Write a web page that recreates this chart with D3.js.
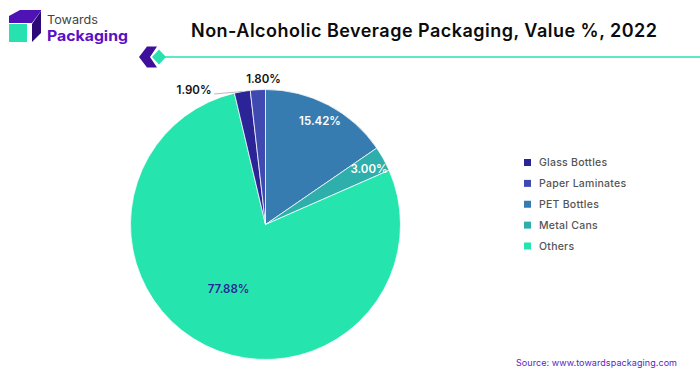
<!DOCTYPE html>
<html><head><meta charset="utf-8">
<script src="https://cdn.jsdelivr.net/npm/d3@7/dist/d3.min.js"></script>
<style>html,body{margin:0;padding:0;background:#fff}svg{display:block}text{font-family:Inter,sans-serif}</style>
</head><body><svg id="c" width="700" height="375"></svg>
<script>
const titleText = "Non-Alcoholic Beverage Packaging, Value %, 2022";
const sourceText = "Source: www.towardspackaging.com";
const legendOrder = ["Glass Bottles","Paper Laminates","PET Bottles","Metal Cans","Others"];
const legendColors = ["#2a2497","#4049b0","#377cb0","#2eafab","#26e4ae"];
const sliceCategories = ["PET Bottles","Metal Cans","Others","Glass Bottles","Paper Laminates"];
const sliceValues = [15.42,3.00,77.88,1.90,1.80];

const svg = d3.select("#c");
const color = d3.scaleOrdinal(legendOrder, legendColors);
const cx = 265.5, cy = 224.5, R = 135;

// logo
const logo = svg.append("g");
logo.append("path").attr("d","M9 23 L9 16 L20 10 L41 10 L41 11 L32 23 Z").attr("fill","#4f12b4");
logo.append("path").attr("d","M32 24 L41 11 L41 33 L32 42 Z").attr("fill","#2e0a78");
logo.append("rect").attr("x",9).attr("y",24).attr("width",18).attr("height",18).attr("fill","#27e2ae");
logo.append("text").attr("x",47).attr("y",23.5).attr("font-size",11.5).attr("fill","#444").attr("lengthAdjust","spacingAndGlyphs").attr("textLength",51).text("Towards");
logo.append("text").attr("x",47).attr("y",40.5).attr("font-size",14).attr("font-weight",700).attr("fill","#5a10c4").attr("lengthAdjust","spacingAndGlyphs").attr("textLength",81).text("Packaging");

// title + rule
svg.append("text").attr("x",191).attr("y",36.5).attr("font-size",18).attr("font-weight",600).attr("fill","#0b0b0b").attr("textLength",466).text(titleText);
svg.append("line").attr("x1",160).attr("x2",700).attr("y1",57).attr("y2",57).attr("stroke","#27e2ae").attr("stroke-width",1.6);
svg.append("path").attr("d","M139 57 L147 46.5 L157 46.5 L150 57 L157 67.5 L147 67.5 Z").attr("fill","#3d0f9a");
svg.append("path").attr("d","M159 49.5 L166 57 L159 64.5 L152 57 Z").attr("fill","#27e2ae");

// pie
const pie = d3.pie().sort(null).value(d=>d.v).startAngle(0).endAngle(2*Math.PI);
const arcs = pie(sliceCategories.map((c,i)=>({c,v:sliceValues[i]})));
const arc = d3.arc().innerRadius(0).outerRadius(R);
const g = svg.append("g").attr("transform",`translate(${cx},${cy})`);
g.selectAll("path").data(arcs).join("path").attr("d",arc)
 .attr("fill",d=>color(d.data.c)).attr("stroke","#fff").attr("stroke-opacity",.75).attr("stroke-width",1);

// leader for Glass Bottles
const glass = arcs[3], ga=(glass.startAngle+glass.endAngle)/2;
const lineG = d3.line();
g.append("path").attr("d",lineG([[Math.sin(ga)*R,-Math.cos(ga)*R],[214-cx,94-cy]])).attr("fill","none").attr("stroke","#bbb").attr("stroke-width",1);

// labels
const labelPos = {"PET Bottles":[320,125,"#fff"],"Metal Cans":[369,173,"#fff"],"Others":[228.5,293,"#2a2497"],"Glass Bottles":[194,94,"#111"],"Paper Laminates":[263.5,83,"#111"]};
svg.selectAll("text.v").data(arcs).join("text").attr("class","v")
 .attr("x",d=>labelPos[d.data.c][0]).attr("y",d=>labelPos[d.data.c][1])
 .attr("text-anchor","middle").attr("font-size",11.5).attr("font-weight",600)
 .attr("fill",d=>labelPos[d.data.c][2]).text(d=>d.data.v.toFixed(2)+"%");

// legend
const y = d3.scalePoint().domain(legendOrder).range([162.5,246]);
const leg = svg.selectAll("g.l").data(legendOrder).join("g").attr("class","l").attr("transform",d=>`translate(524,${y(d)})`);
leg.append("rect").attr("y",-3.5).attr("width",7).attr("height",7).attr("fill",d=>color(d));
leg.append("text").attr("x",15).attr("y",3.5).attr("font-size",10.5).attr("font-weight",500).attr("fill","#555").attr("letter-spacing",.25).text(d=>d);

// source
svg.append("text").attr("x",516).attr("y",365.5).attr("font-size",9).attr("fill","#5a25c4").attr("font-weight",400).attr("textLength",161).text(sourceText);
</script></body></html>
